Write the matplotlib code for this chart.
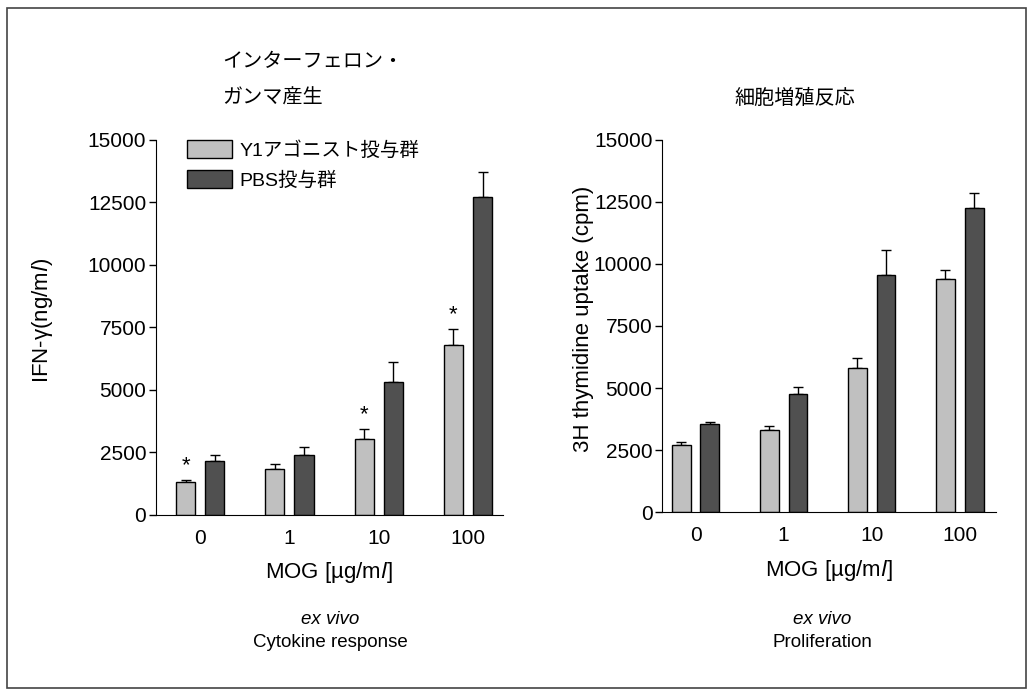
import numpy as np
import matplotlib
matplotlib.use('Agg')
import matplotlib.pyplot as plt
from matplotlib.patches import Patch, Rectangle

plt.rcParams['font.family'] = ['Liberation Sans', 'Noto Sans CJK JP', 'DejaVu Sans']
plt.rcParams['font.size'] = 15

# data
doses = ['0', '1', '10', '100']
ifn_y1 = [1300, 1850, 3050, 6800]
ifn_y1_err = [100, 200, 400, 650]
ifn_pbs = [2150, 2400, 5300, 12700]
ifn_pbs_err = [250, 300, 800, 1000]
ifn_star = [True, False, True, True]

prol_y1 = [2700, 3300, 5800, 9400]
prol_y1_err = [120, 170, 400, 350]
prol_pbs = [3550, 4750, 9550, 12250]
prol_pbs_err = [100, 300, 1000, 600]

series_names = ['Y1アゴニスト投与群', 'PBS投与群']
col_y1 = '#c0c0c0'
col_pbs = '#505050'

fig = plt.figure(figsize=(10.33, 6.95), dpi=100)

# frame round the whole picture
fig.add_artist(Rectangle((0.007, 0.01), 0.986, 0.978, transform=fig.transFigure,
                         fill=False, edgecolor='#444444', linewidth=1.2))

ax1 = fig.add_axes([0.151, 0.259, 0.336, 0.540])
ax2 = fig.add_axes([0.641, 0.263, 0.323, 0.536])

w = 0.215
off = 0.163
x = np.arange(len(doses))


def draw(ax, y1, y1e, pbs, pbse, xlim):
    ax.bar(x - off, y1, w, color=col_y1, edgecolor='black', linewidth=1.0, zorder=2)
    ax.bar(x + off, pbs, w, color=col_pbs, edgecolor='black', linewidth=1.0, zorder=2)
    ax.errorbar(x - off, y1, yerr=[np.zeros(4), y1e], fmt='none', ecolor='black',
                elinewidth=1.0, capsize=3.5, capthick=1.0, zorder=1)
    ax.errorbar(x + off, pbs, yerr=[np.zeros(4), pbse], fmt='none', ecolor='black',
                elinewidth=1.0, capsize=3.5, capthick=1.0, zorder=1)
    ax.set_ylim(0, 15000)
    ax.set_xlim(*xlim)
    ax.set_yticks([0, 2500, 5000, 7500, 10000, 12500, 15000])
    ax.set_xticks(x)
    ax.set_xticklabels(doses)
    ax.spines['top'].set_visible(False)
    ax.spines['right'].set_visible(False)
    ax.tick_params(axis='both', labelsize=15)
    ax.tick_params(axis='y', length=5, width=1.0, direction='out', pad=2)
    ax.tick_params(axis='x', length=0, pad=10)
    ax.set_xlabel('MOG [µg/m$\\mathit{l}$]', labelpad=9, fontsize=16)


draw(ax1, ifn_y1, ifn_y1_err, ifn_pbs, ifn_pbs_err, (-0.494, 3.393))
draw(ax2, prol_y1, prol_y1_err, prol_pbs, prol_pbs_err, (-0.38, 3.41))

for i in range(4):
    if ifn_star[i]:
        ax1.text(x[i] - off, ifn_y1[i] + ifn_y1_err[i] + 150, '*', ha='center',
                 va='bottom', fontsize=16)

ax1.set_ylabel('IFN-γ(ng/m$\\mathit{l}$)', fontsize=16)
ax1.yaxis.set_label_coords(-0.29, 0.52)
ax2.set_ylabel('3H thymidine uptake (cpm)', fontsize=16)
ax2.yaxis.set_label_coords(-0.205, 0.52)

handles = [Patch(facecolor=col_y1, edgecolor='black'),
           Patch(facecolor=col_pbs, edgecolor='black')]
ax1.legend(handles, series_names, loc='upper left', bbox_to_anchor=(0.04, 1.045),
           frameon=False, fontsize=14, handlelength=2.3, handleheight=1.0,
           labelspacing=0.55, handletextpad=0.4)

fig.text(0.215, 0.911, 'インターフェロン・', ha='left', va='center', fontsize=14.5)
fig.text(0.215, 0.859, 'ガンマ産生', ha='left', va='center', fontsize=14.5)
fig.text(0.711, 0.859, '細胞増殖反応', ha='left', va='center', fontsize=14.5)

for cx, sub in [(0.32, 'Cytokine response'), (0.796, 'Proliferation')]:
    fig.text(cx, 0.109, 'ex vivo', ha='center', va='center', fontsize=13.5,
             style='italic')
    fig.text(cx, 0.076, sub, ha='center', va='center', fontsize=13.5)

fig.savefig('out.png', dpi=100)
